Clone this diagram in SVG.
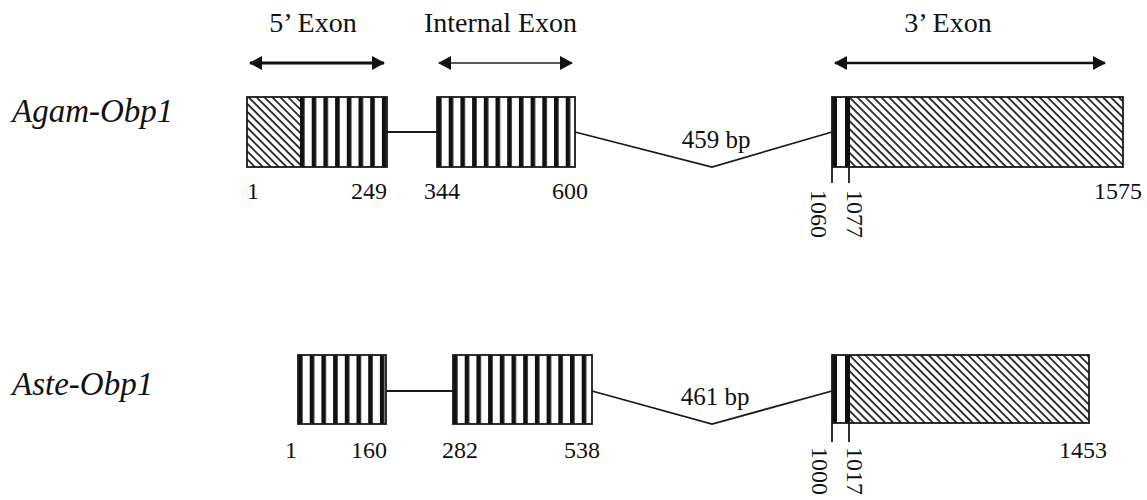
<svg xmlns="http://www.w3.org/2000/svg" width="1147" height="500" viewBox="0 0 1147 500">
<style>
  .t{font-family:"Liberation Serif","Times New Roman",serif;fill:#111}
  .title{font-size:28px}
  .num{font-size:24px}
  .bp{font-size:25px}
  .sp{font-family:"Liberation Serif","Times New Roman",serif;font-style:italic;font-size:33px;fill:#111}
  .box{fill:none;stroke:#1a1a1a;stroke-width:1.8}
  .ln{fill:none;stroke:#1a1a1a;stroke-width:1.8}
  .blk{fill:#111}
</style>
<defs>
  <pattern id="stripes" patternUnits="userSpaceOnUse" width="11.7" height="20">
    <rect x="0" y="0" width="11.7" height="20" fill="#fff"/>
    <rect x="0" y="0" width="4.6" height="20" fill="#111"/>
  </pattern>
  <pattern id="hatch" patternUnits="userSpaceOnUse" width="5.6" height="10" patternTransform="rotate(-45)">
    <rect x="0" y="0" width="5.6" height="10" fill="#fff"/>
    <line x1="1" y1="0" x2="1" y2="10" stroke="#1a1a1a" stroke-width="1.7"/>
  </pattern>
  <marker id="ah" markerUnits="userSpaceOnUse" markerWidth="14" markerHeight="16" refX="12" refY="7" orient="auto-start-reverse">
    <path d="M0,0 L13,7 L0,14 Z" fill="#111"/>
  </marker>
</defs>

<!-- header arrows and titles -->
<g id="header-5exon">
  <text class="t title" x="313" y="32" text-anchor="middle">5’ Exon</text>
  <line x1="250" y1="63" x2="384" y2="63" stroke="#111" stroke-width="3" marker-start="url(#ah)" marker-end="url(#ah)"/>
</g>
<g id="header-internal">
  <text class="t title" x="500.5" y="32" text-anchor="middle">Internal Exon</text>
  <line x1="439" y1="63" x2="572" y2="63" stroke="#222" stroke-width="1.6" marker-start="url(#ah)" marker-end="url(#ah)"/>
</g>
<g id="header-3exon">
  <text class="t title" x="948" y="32" text-anchor="middle">3’ Exon</text>
  <line x1="835" y1="63" x2="1105" y2="63" stroke="#111" stroke-width="2.6" marker-start="url(#ah)" marker-end="url(#ah)"/>
</g>

<!-- species labels -->
<g id="label-agam"><text class="sp" x="12" y="122">Agam-Obp1</text></g>
<g id="label-aste"><text class="sp" x="12" y="395">Aste-Obp1</text></g>

<!-- connectors (introns) -->
<g id="connectors">
  <line class="ln" x1="387" y1="132" x2="437" y2="132"/>
  <polyline class="ln" points="575,132 712,167 832,132"/>
  <line class="ln" x1="386" y1="391" x2="453" y2="391"/>
  <polyline class="ln" points="592,391 712,424 832,391"/>
  <line class="ln" x1="832" y1="167" x2="832" y2="183"/>
  <line class="ln" x1="849" y1="167" x2="849" y2="183"/>
  <line class="ln" x1="832" y1="423" x2="832" y2="442"/>
  <line class="ln" x1="849" y1="423" x2="849" y2="442"/>
</g>

<!-- Agam exons -->
<g id="agam-exon1" transform="translate(247,97)">
  <rect x="0" y="0" width="53" height="70" fill="url(#hatch)"/>
  <g transform="translate(53,0)"><rect x="0" y="0" width="87" height="70" fill="url(#stripes)"/></g>
  <rect class="box" x="0" y="0" width="140" height="70"/>
</g>
<g id="agam-exon2" transform="translate(437,97)">
  <rect x="0" y="0" width="138" height="70" fill="url(#stripes)"/>
  <rect class="box" x="0" y="0" width="138" height="70"/>
</g>
<g id="agam-exon3" transform="translate(832,97)">
  <rect x="0" y="0" width="291" height="70" fill="url(#hatch)"/>
  <rect x="0" y="0" width="18" height="70" fill="#fff"/>
  <rect class="blk" x="0" y="0" width="5" height="70"/>
  <rect class="blk" x="13" y="0" width="5" height="70"/>
  <rect class="box" x="0" y="0" width="291" height="70"/>
</g>

<!-- Aste exons -->
<g id="aste-exon1" transform="translate(298,355)">
  <rect x="0" y="0" width="88" height="69" fill="url(#stripes)"/>
  <rect class="box" x="0" y="0" width="88" height="69"/>
</g>
<g id="aste-exon2" transform="translate(453,355)">
  <rect x="0" y="0" width="139" height="69" fill="url(#stripes)"/>
  <rect class="box" x="0" y="0" width="139" height="69"/>
</g>
<g id="aste-exon3" transform="translate(832,355)">
  <rect x="0" y="0" width="257" height="68" fill="url(#hatch)"/>
  <rect x="0" y="0" width="18" height="68" fill="#fff"/>
  <rect class="blk" x="0" y="0" width="5" height="68"/>
  <rect class="blk" x="13" y="0" width="5" height="68"/>
  <rect class="box" x="0" y="0" width="257" height="68"/>
</g>

<!-- Agam labels -->
<g id="agam-labels">
  <text class="t num" x="247" y="199">1</text>
  <text class="t num" x="387" y="199" text-anchor="end">249</text>
  <text class="t num" x="424" y="199">344</text>
  <text class="t num" x="588" y="199" text-anchor="end">600</text>
  <text class="t bp" x="716" y="148" text-anchor="middle">459 bp</text>
  <text class="t num" transform="translate(811,190) rotate(90)">1060</text>
  <text class="t num" transform="translate(847,190) rotate(90)">1077</text>
  <text class="t num" x="1142" y="199" text-anchor="end">1575</text>
</g>

<!-- Aste labels -->
<g id="aste-labels">
  <text class="t num" x="285" y="458">1</text>
  <text class="t num" x="387" y="458" text-anchor="end">160</text>
  <text class="t num" x="442" y="458">282</text>
  <text class="t num" x="600" y="458" text-anchor="end">538</text>
  <text class="t bp" x="715" y="405" text-anchor="middle">461 bp</text>
  <text class="t num" transform="translate(812,447) rotate(90)">1000</text>
  <text class="t num" transform="translate(847,447) rotate(90)">1017</text>
  <text class="t num" x="1107" y="458" text-anchor="end">1453</text>
</g>
</svg>
